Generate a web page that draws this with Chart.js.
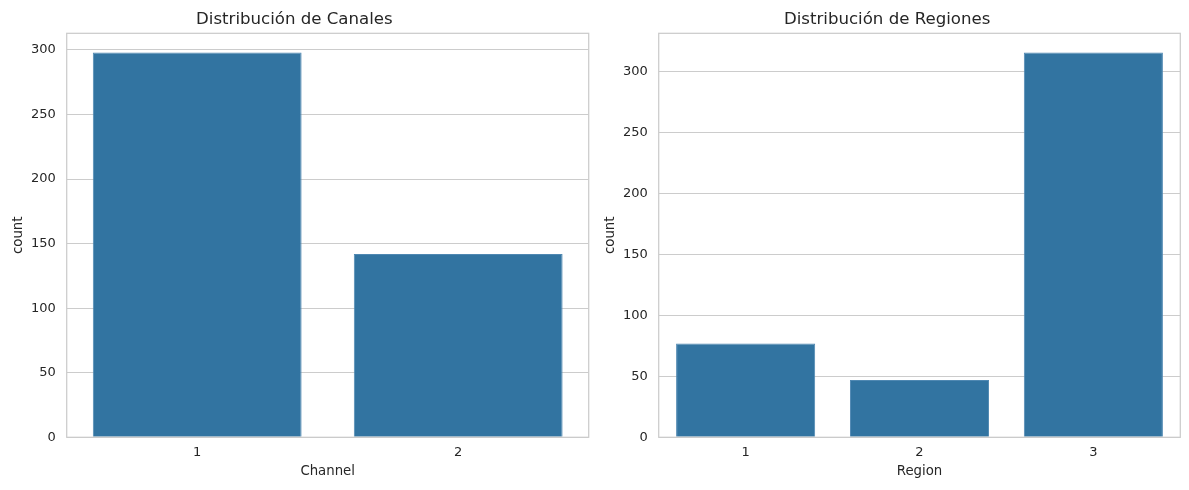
<!DOCTYPE html>
<html>
<head>
<meta charset="utf-8">
<script src="https://cdn.jsdelivr.net/npm/chart.js@4.4.0/dist/chart.umd.min.js"></script>
<style>
  html, body { margin: 0; padding: 0; background: #ffffff; }
  #wrap { position: relative; width: 1189px; height: 490px; }
  .box { position: absolute; top: 0; height: 490px; }
</style>
</head>
<body>
<div id="wrap">
  <div class="box" style="left:0;width:594px"><canvas id="c1"></canvas></div>
  <div class="box" style="left:594px;width:595px"><canvas id="c2"></canvas></div>
</div>
<script>
const channelLabels = ['1', '2'];
const channelCounts = [298, 142];
const regionLabels = ['1', '2', '3'];
const regionCounts = [77, 47, 316];

const FONT = 'DejaVu Sans';
const TXT = '#262626';
const GRID = '#cccccc';
const BAR = '#3274a1';

const framePlugin = {
  id: 'frame',
  afterDatasetsDraw(chart) {
    const a = chart.chartArea, ctx = chart.ctx;
    ctx.save();
    ctx.strokeStyle = GRID;
    ctx.lineWidth = 1.25;
    ctx.strokeRect(a.left, a.top, a.right - a.left, a.bottom - a.top);
    ctx.restore();
  }
};

function makeChart(id, labels, values, title, xTitle, yWidth, rightPad, yTitlePad) {
  const maxV = Math.max(...values) * 1.05;
  return new Chart(document.getElementById(id), {
    type: 'bar',
    data: {
      labels: labels,
      datasets: [{
        data: values,
        backgroundColor: BAR,
        borderColor: '#4f88b2',
        borderWidth: 1,
        barPercentage: 0.8,
        categoryPercentage: 1.0
      }]
    },
    options: {
      responsive: true,
      maintainAspectRatio: false,
      animation: false,
      layout: { padding: { left: 0, right: rightPad, top: 0, bottom: 0 } },
      plugins: {
        legend: { display: false },
        tooltip: { enabled: false },
        title: {
          display: true,
          text: title,
          color: TXT,
          font: { family: FONT, size: 16.6, weight: 'normal' },
          lineHeight: 1.2,
          padding: { top: 9.3, bottom: 4.1 }
        }
      },
      scales: {
        x: {
          grid: { display: false, drawTicks: false },
          border: { display: false },
          ticks: { color: TXT, font: { family: FONT, size: 13 }, padding: 8 },
          title: {
            display: true, text: xTitle, color: TXT,
            font: { family: FONT, size: 13.3 }, padding: { top: 4, bottom: 10 }
          },
          afterFit(s) { s.height = 52.7; }
        },
        y: {
          min: 0,
          max: maxV,
          grid: { color: GRID, lineWidth: 1.1, drawTicks: false },
          border: { display: false },
          ticks: { stepSize: 50, color: TXT, font: { family: FONT, size: 13 }, padding: 11 },
          afterBuildTicks(s) { s.ticks = s.ticks.filter(t => t.value % 50 === 0); },
          title: {
            display: true, text: 'count', color: TXT,
            font: { family: FONT, size: 13.3 }, padding: { top: yTitlePad, bottom: 4 }
          },
          afterFit(s) { s.width = yWidth; }
        }
      }
    },
    plugins: [framePlugin]
  });
}

makeChart('c1', channelLabels, channelCounts, 'Distribución de Canales', 'Channel', 66.7, 5.3, 11);
makeChart('c2', regionLabels, regionCounts, 'Distribución de Regiones', 'Region', 64.7, 8.7, 8.5);
</script>
</body>
</html>
